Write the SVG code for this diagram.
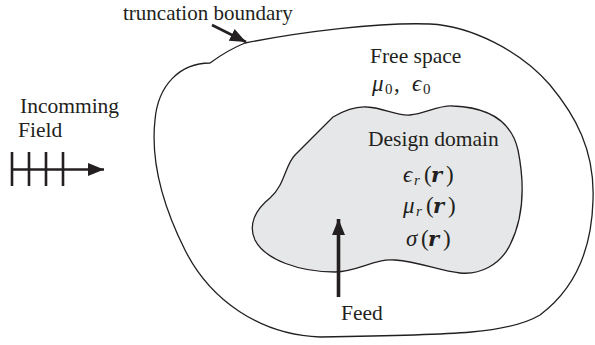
<svg xmlns="http://www.w3.org/2000/svg" width="595" height="345" viewBox="0 0 595 345">
  <style>
    .lbl { font-family: "Liberation Serif", "Times New Roman", serif; font-size: 21.5px; fill: #231f20; }
    .math { font-family: "Liberation Serif", "Times New Roman", serif; font-size: 23px; fill: #231f20; }
    .it { font-style: italic; }
    .bi { font-family: "DejaVu Serif", serif; font-style: italic; font-weight: bold; font-size: 21px; }
    .sub { font-size: 15px; }
    .edge { fill: none; stroke: #231f20; }
  </style>
  <defs>
    <marker id="head" markerUnits="userSpaceOnUse" markerWidth="18" markerHeight="16" refX="16" refY="8" orient="auto">
      <path d="M0,1.5 L16,8 L0,14.5 Z" fill="#231f20"/>
    </marker>
  </defs>

  <rect width="595" height="345" fill="#ffffff"/>

  <!-- outer truncation boundary -->
  <g id="boundary">
    <path d="M245,43 C300,32 380,22 430,24 C470,26 520,50 550,85 C575,115 595,150 593,200 C592,240 580,285 540,315 C510,333 460,335 320,337 C260,335 210,300 185,250 C165,210 150,165 155,120 C158,85 180,63 210,63 C225,52 235,47 245,43 Z" fill="#ffffff" stroke="#231f20" stroke-width="1.3"/>
  </g>

  <!-- design domain -->
  <g id="design-domain">
    <path d="M333,117 C345,110 355,106 367,107 C385,108 395,116 410,115 C425,114 438,105 453,106 C480,107 510,115 518,150 C524,180 525,215 510,245 C500,265 480,275 460,273 C440,271 420,262 395,260 C375,258 360,271 335,272 C300,272 265,260 255,240 C248,225 255,210 270,198 C285,185 285,165 295,155 C310,140 320,130 333,117 Z" fill="#e6e7e8" stroke="#231f20" stroke-width="1.3"/>
    <text class="lbl" x="368" y="146">Design domain</text>
    <text class="math" y="182"><tspan class="it" x="403">ϵ</tspan><tspan class="it sub" x="414" y="185">r</tspan><tspan x="424" y="182">(</tspan><tspan class="bi" x="431">r</tspan><tspan x="446">)</tspan></text>
    <text class="math" y="213"><tspan class="it" x="403">μ</tspan><tspan class="it sub" x="416" y="216">r</tspan><tspan x="426" y="213">(</tspan><tspan class="bi" x="433">r</tspan><tspan x="448">)</tspan></text>
    <text class="math" y="246"><tspan class="it" x="406">σ</tspan><tspan x="421">(</tspan><tspan class="bi" x="428">r</tspan><tspan x="443">)</tspan></text>
  </g>

  <!-- free space -->
  <g id="free-space">
    <text class="lbl" x="370" y="63">Free space</text>
    <text class="math" y="91"><tspan class="it" x="372">μ</tspan><tspan class="sub" x="385" y="94">0</tspan><tspan x="394" y="91">,</tspan><tspan class="it" x="412">ϵ</tspan><tspan class="sub" x="423" y="94">0</tspan></text>
  </g>

  <!-- labels -->
  <g id="truncation-label">
    <text class="lbl" x="123" y="19.5" style="font-size:21px">truncation boundary</text>
  </g>
  <g id="incoming-field">
    <text class="lbl" x="20" y="113">Incomming</text>
    <text class="lbl" x="18" y="137">Field</text>
    <g stroke="#231f20" stroke-width="2.6">
      <line x1="12" y1="152" x2="12" y2="186"/>
      <line x1="29" y1="152" x2="29" y2="186"/>
      <line x1="46" y1="152" x2="46" y2="186"/>
      <line x1="63" y1="152" x2="63" y2="186"/>
    </g>
  </g>
  <g id="feed">
    <text class="lbl" x="341" y="320">Feed</text>
  </g>

  <!-- connectors -->
  <g id="connectors">
    <line class="edge" x1="212" y1="25" x2="246" y2="42" stroke-width="2.6" marker-end="url(#head)"/>
    <line class="edge" x1="12" y1="169.5" x2="104" y2="169.5" stroke-width="2.6" marker-end="url(#head)"/>
    <line class="edge" x1="338.5" y1="297" x2="338.5" y2="219" stroke-width="3.6" marker-end="url(#head)"/>
  </g>
</svg>
